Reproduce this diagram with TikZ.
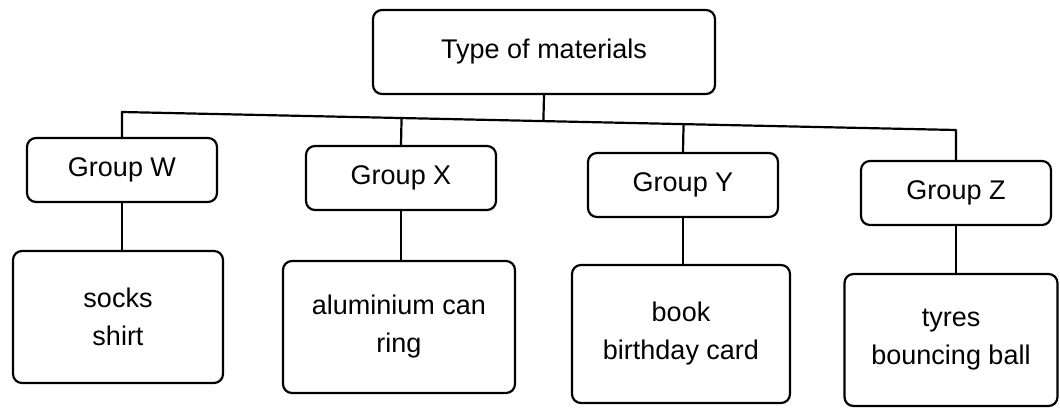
\documentclass[tikz,border=0pt]{standalone}
\usepackage{fontspec}
\setmainfont{Liberation Sans}
\usetikzlibrary{calc}

\begin{document}
\begin{tikzpicture}[x=1pt, y=-1pt, line cap=round, line join=round,
    box/.style={draw, line width=2.2pt, rounded corners=9pt, align=center,
        font=\fontsize{27}{38}\selectfont, inner sep=0pt},
    topbox/.style={box, minimum width=342pt, minimum height=84pt},
    groupbox/.style={box, minimum width=190pt, minimum height=64pt},
    itembox/.style={box, minimum height=132pt}]
        \useasboundingbox (0,0) rectangle (1060,408);

        % top box
        \node[topbox] (top) at (544,52) {Type of materials};

        % groups
        \node[groupbox] (gW) at (122,170) {Group W};
        \node[groupbox] (gX) at (401,178) {Group X};
        \node[groupbox] (gY) at (683,185) {Group Y};
        \node[groupbox] (gZ) at (956,193) {Group Z};

        % members of each group
        \node[itembox, minimum width=210pt] (bW) at (118,317) {socks\\shirt};
        \node[itembox, minimum width=232pt] (bX) at (399,327) {aluminium can\\ring};
        \node[itembox, minimum width=218pt, minimum height=138pt] (bY) at (681,334) {book\\birthday card};
        \node[itembox, minimum width=213pt] (bZ) at (951,340) {tyres\\bouncing ball};

        % bus line
        \coordinate (busW) at (122,112);
        \coordinate (busZ) at (956,130);
        \draw[line width=2.2pt] (gW.north) -- (busW) -- (busZ) -- (gZ.north);
        \draw[line width=2.2pt] (top.south) -- ($(busW)!(top.south)!(busZ)$);
        \draw[line width=2.2pt] (gX.north) -- ($(busW)!(gX.north)!(busZ)$);
        \draw[line width=2.2pt] (gY.north) -- ($(busW)!(gY.north)!(busZ)$);

        % group to members
        \foreach \g in {W,X,Y,Z}
            \draw[line width=2.2pt] (g\g.south) -- (g\g.south |- b\g.north);
    \end{tikzpicture}
\end{document}
